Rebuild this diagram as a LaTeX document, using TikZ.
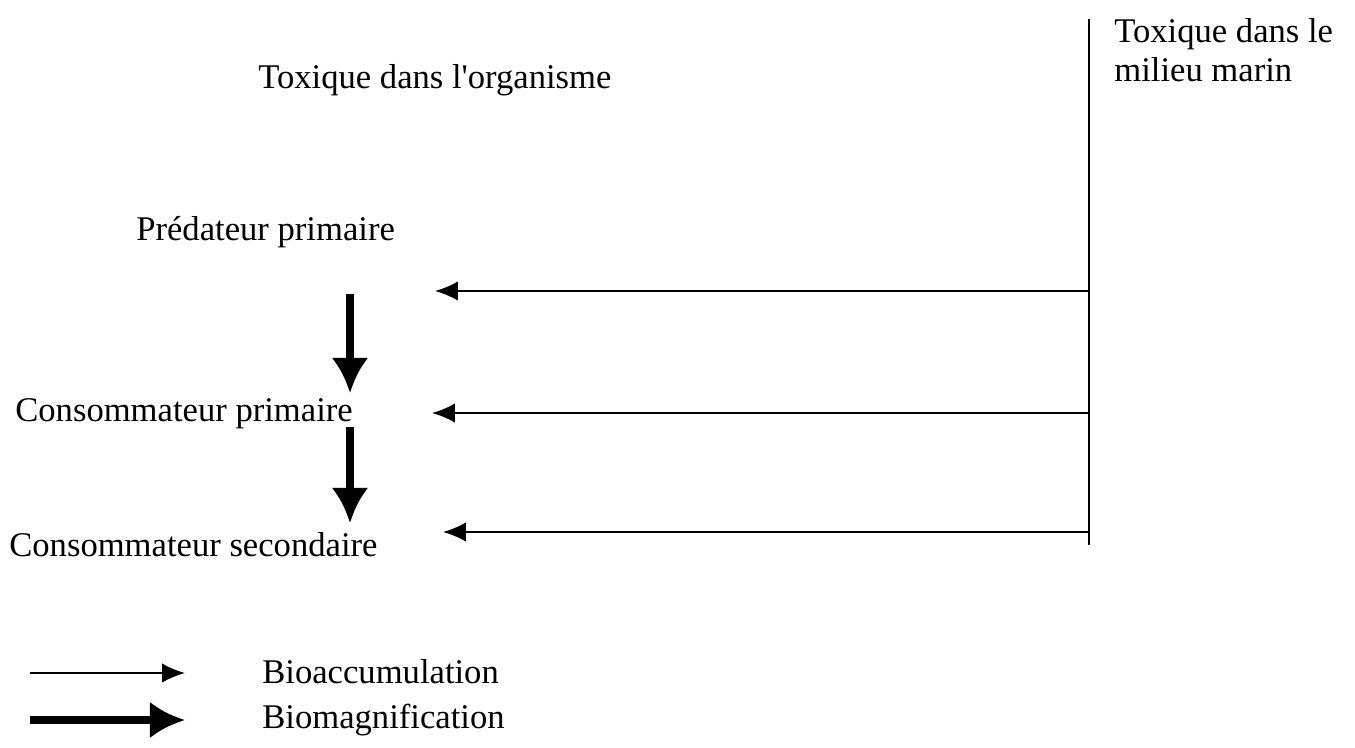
\documentclass[tikz,border=0pt]{standalone}
\usepackage{fontspec}
\setmainfont{Liberation Serif}
\usepackage{tikz}
\usetikzlibrary{arrows.meta}

\tikzset{
  txt/.style={font=\fontsize{19.7}{22}\selectfont, inner sep=0pt, anchor=base west},
  fine/.style={line width=1.1pt, -{Latex[length=13pt,width=11pt]}},
  fat/.style={line width=4pt, -{Latex[length=20pt,width=21pt]}}
}

\begin{document}
\begin{tikzpicture}[x=0.02cm, y=-0.02cm]
  \useasboundingbox (0,0) rectangle (1355,747);
  % texts
  \node[txt] (organisme) at (258,88) {Toxique dans l\textquotesingle organisme};
  \node[txt, align=left] (milieu) at (1114,81) {Toxique dans le\\milieu marin}; % base = last line
  \node[txt] (predateur) at (136,240) {Prédateur primaire};
  \node[txt] (conso1) at (15,421) {Consommateur primaire};
  \node[txt] (conso2) at (9,556) {Consommateur secondaire};
  % marine side
  \coordinate (haut) at (1089,19);
  \coordinate (bas) at (1089,545);
  \draw [line width=1.1pt] (haut) -- (bas) ; % vertical line
  \coordinate (m1) at (1089,291);
  \coordinate (m2) at (1089,413);
  \coordinate (m3) at (1089,532);
  \coordinate (o1) at (435,291);
  \coordinate (o2) at (432,413);
  \coordinate (o3) at (443,532);
  \draw [fine] (m1) -- (o1) ; % bioaccumulation
  \draw [fine] (m2) -- (o2) ;
  \draw [fine] (m3) -- (o3) ;
  % food chain
  \coordinate (p1) at (350,294);
  \coordinate (p2) at (350,393);
  \coordinate (c1) at (350,427);
  \coordinate (c2) at (350,523);
  \draw [fat] (p1) -- (p2) ; % biomagnification
  \draw [fat] (c1) -- (c2) ;
  % legend
  \coordinate (la) at (30,673);
  \coordinate (lb) at (185,673);
  \coordinate (lc) at (30,720);
  \coordinate (ld) at (185,720);
  \draw [fine] (la) -- (lb) ;
  \draw [fat] (lc) -- (ld) ;
  \node[txt] (bioacc) at (262,683) {Bioaccumulation};
  \node[txt] (biomag) at (262,728) {Biomagnification};
\end{tikzpicture}
\end{document}
